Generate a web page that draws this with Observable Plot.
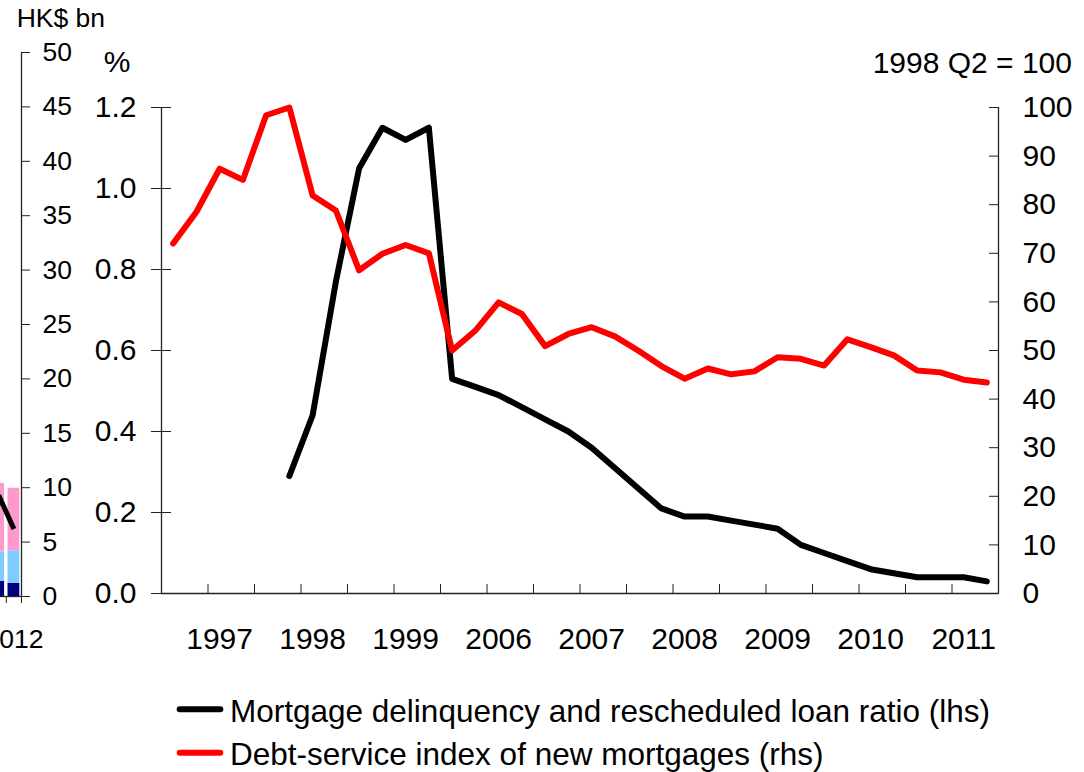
<!DOCTYPE html>
<html>
<head>
<meta charset="utf-8">
<script src="https://cdn.jsdelivr.net/npm/d3@7"></script>
<script src="https://cdn.jsdelivr.net/npm/@observablehq/plot@0.6"></script>
<style>
  html, body { margin: 0; padding: 0; background: #fff; }
  #chart { position: relative; width: 1084px; height: 772px; overflow: hidden; background: #fff;
           font-family: "Liberation Sans", Arial, sans-serif; }
  #chart svg { position: absolute; max-width: none; }
</style>
</head>
<body>
<div id="chart"></div>
<script>
// ---- Main panel: quarterly categories (1997-1999, 2006-2011) ----
const years = ["1997", "1998", "1999", "2006", "2007", "2008", "2009", "2010", "2011"];
const quarterNames = ["Q1", "Q2", "Q3", "Q4"];
const quarters = years.flatMap(y => quarterNames.map(q => `${y} ${q}`));

// Mortgage delinquency and rescheduled loan ratio (%, lhs)
const delinquencyRatio = [
  null, null, null, null, null, 0.29, 0.44, 0.77, 1.05, 1.15, 1.12, 1.15,
  0.53, 0.51, 0.49, 0.46, 0.43, 0.40, 0.36, 0.31, 0.26, 0.21, 0.19, 0.19,
  0.18, 0.17, 0.16, 0.12, 0.10, 0.08, 0.06, 0.05, 0.04, 0.04, 0.04, 0.03
];

// Debt-service index of new mortgages (1998 Q2 = 100, rhs)
const debtServiceIndex = [
  72.0, 78.5, 87.4, 85.1, 98.4, 100.0, 81.9, 78.8, 66.5, 69.9, 71.7, 70.0,
  50.0, 54.1, 59.9, 57.5, 50.9, 53.4, 54.8, 52.9, 50.0, 46.8, 44.2, 46.3,
  45.1, 45.7, 48.6, 48.3, 46.9, 52.3, 50.7, 49.0, 45.9, 45.5, 44.0, 43.4
];

const lhsTicks = [0, 0.2, 0.4, 0.6, 0.8, 1.0, 1.2];
const rhsTicks = [0, 10, 20, 30, 40, 50, 60, 70, 80, 90, 100];

// ---- Left neighbouring panel (HK$ bn), only its last two periods show ----
const leftPeriods = ["2011", "2012"];
const leftSeriesNames = ["Component A", "Component B", "Component C"];
const leftComponentA = [1.4, 1.2];
const leftComponentB = [2.7, 3.0];
const leftComponentC = [6.3, 5.75];
const leftLineValues = [9.3, 6.2];
const leftTicks = [0, 5, 10, 15, 20, 25, 30, 35, 40, 45, 50];

const FONT = "Liberation Sans, Arial, Helvetica, sans-serif";
const axisColor = "#222";
const chart = document.getElementById("chart");

// ---------- left panel ----------
const leftColors = ["#000080", "#7dcbff", "#ff99cc"];
const leftStacks = [leftComponentA, leftComponentB, leftComponentC];
const leftRows = leftSeriesNames.flatMap((s, k) =>
  leftPeriods.map((p, i) => ({series: s, period: p, i, value: leftStacks[k][i]})));
const leftLineRows = leftPeriods.map((p, i) => ({period: p, i, value: leftLineValues[i]}));

const leftPlot = Plot.plot({
  width: 120, height: 660,
  marginLeft: 30.6, marginRight: 59, marginTop: 52, marginBottom: 64,
  style: {fontFamily: FONT, fontSize: "26.5px", color: "#000", background: "transparent", overflow: "visible"},
  x: {type: "linear", domain: [-0.5, leftPeriods.length - 0.5], axis: null},
  y: {domain: [0, 50], axis: null},
  color: {domain: leftSeriesNames, range: leftColors},
  marks: [
    Plot.rectY(leftRows, Plot.stackY({
      x1: d => d.i - 0.5, x2: d => d.i + 0.5, y: "value", fill: "series",
      insetLeft: 1.7, insetRight: 1.7
    })),
    Plot.line(leftLineRows, {x: "i", y: "value", stroke: "#000", strokeWidth: 5,
      strokeLinejoin: "round", strokeLinecap: "butt"}),
    Plot.ruleY([0], {stroke: axisColor, strokeWidth: 1.3}),
    Plot.ruleX([leftPeriods.length - 0.5], {stroke: axisColor, strokeWidth: 1.3}),
    Plot.axisY({anchor: "right", ticks: leftTicks, tickSize: 8, tickPadding: 13, label: null,
      fontSize: 26.5, stroke: axisColor, fill: "#000"}),
    Plot.axisX({ticks: [0.5, 1.5], tickSize: 7, tickFormat: () => "", label: null, stroke: axisColor}),
    Plot.axisX({ticks: [leftPeriods.length - 1], tickSize: 0, tickPadding: 33, label: null,
      tickFormat: i => leftPeriods[i], fontSize: 26.5, fill: "#000"})
  ]
});
leftPlot.style.left = "-40px";
leftPlot.style.top = "0px";
chart.appendChild(leftPlot);

// ---------- main panel ----------
const rhsToLhs = 1.2 / 100;
const mainRows = quarters.map((q, i) => ({
  quarter: q, i, ratio: delinquencyRatio[i], index: debtServiceIndex[i]
}));
const boundaryTicks = d3.range(-0.5, quarters.length, 2);
const yearLabelPos = years.map((y, k) => k * 4 + 2);

const mainPlot = Plot.plot({
  width: 1084, height: 665,
  marginLeft: 161, marginRight: 86, marginTop: 107, marginBottom: 72,
  style: {fontFamily: FONT, fontSize: "30px", color: "#000", background: "transparent", overflow: "visible"},
  x: {type: "linear", domain: [-0.5, quarters.length - 0.5], axis: null},
  y: {domain: [0, 1.2], axis: null},
  marks: [
    Plot.ruleY([0], {stroke: axisColor, strokeWidth: 1.3}),
    Plot.ruleX([-0.5, quarters.length - 0.5], {stroke: axisColor, strokeWidth: 1.3}),
    // category tick marks every two quarters, pointing up into the plot
    Plot.axisX({ticks: boundaryTicks, tickSize: 9, dy: -9, tickFormat: () => "", label: null, stroke: axisColor}),
    Plot.axisX({ticks: yearLabelPos, tickSize: 0, tickPadding: 34, label: null,
      tickFormat: i => years[(i - 2) / 4], fontSize: 30, fill: "#000"}),
    // left axis: ticks crossing the axis line
    Plot.axisY({anchor: "left", ticks: lhsTicks, tickSize: 20, dx: 10, tickFormat: () => "", label: null, stroke: axisColor}),
    Plot.axisY({anchor: "left", ticks: lhsTicks, tickSize: 0, tickPadding: 25, label: null,
      tickFormat: d3.format(".1f"), fontSize: 30, fill: "#000"}),
    // right axis: index scale, ticks pointing inwards
    Plot.axisY({anchor: "right", ticks: rhsTicks.map(v => v * rhsToLhs), tickSize: 10, dx: -10,
      tickFormat: () => "", label: null, stroke: axisColor}),
    Plot.axisY({anchor: "right", ticks: rhsTicks.map(v => v * rhsToLhs), tickSize: 0, tickPadding: 24, label: null,
      tickFormat: d => String(Math.round(d / rhsToLhs)), fontSize: 30, fill: "#000"}),
    Plot.line(mainRows, {x: "i", y: "ratio", stroke: "#000", strokeWidth: 6,
      strokeLinejoin: "round", strokeLinecap: "round"}),
    Plot.line(mainRows, {x: "i", y: d => d.index * rhsToLhs, stroke: "#ff0000", strokeWidth: 6,
      strokeLinejoin: "round", strokeLinecap: "round"})
  ]
});
mainPlot.style.left = "0px";
mainPlot.style.top = "0px";
chart.appendChild(mainPlot);

// axis unit captions
const msvg = d3.select(mainPlot);
msvg.append("text").attr("x", 16.7).attr("y", 26.7).attr("text-anchor", "start").attr("font-family", FONT)
  .attr("font-size", 26.5).attr("fill", "#000").text("HK$ bn");
msvg.append("text").attr("x", 117).attr("y", 71.7).attr("text-anchor", "middle").attr("font-family", FONT)
  .attr("font-size", 30).attr("fill", "#000").text("%");
msvg.append("text").attr("x", 1072).attr("y", 72.7).attr("text-anchor", "end").attr("font-family", FONT)
  .attr("font-size", 30).attr("fill", "#000").text("1998 Q2 = 100");

// ---------- legend ----------
const legendItems = [
  {label: "Mortgage delinquency and rescheduled loan ratio (lhs)", color: "#000"},
  {label: "Debt-service index of new mortgages (rhs)", color: "#ff0000"}
];
const legend = d3.create("svg").attr("width", 1084).attr("height", 107)
  .style("left", "0px").style("top", "665px");
const rows = legend.selectAll("g").data(legendItems).join("g")
  .attr("transform", (d, k) => `translate(0,${44.3 + k * 43.4})`);
rows.append("line").attr("x1", 179.7).attr("x2", 220.3).attr("y1", 0).attr("y2", 0)
  .attr("stroke", d => d.color).attr("stroke-width", 6).attr("stroke-linecap", "round");
rows.append("text").attr("x", 230).attr("y", 12.4).attr("text-anchor", "start").attr("font-family", FONT)
  .attr("font-size", 31.5).attr("fill", "#000").text(d => d.label);
chart.appendChild(legend.node());
</script>
</body>
</html>
